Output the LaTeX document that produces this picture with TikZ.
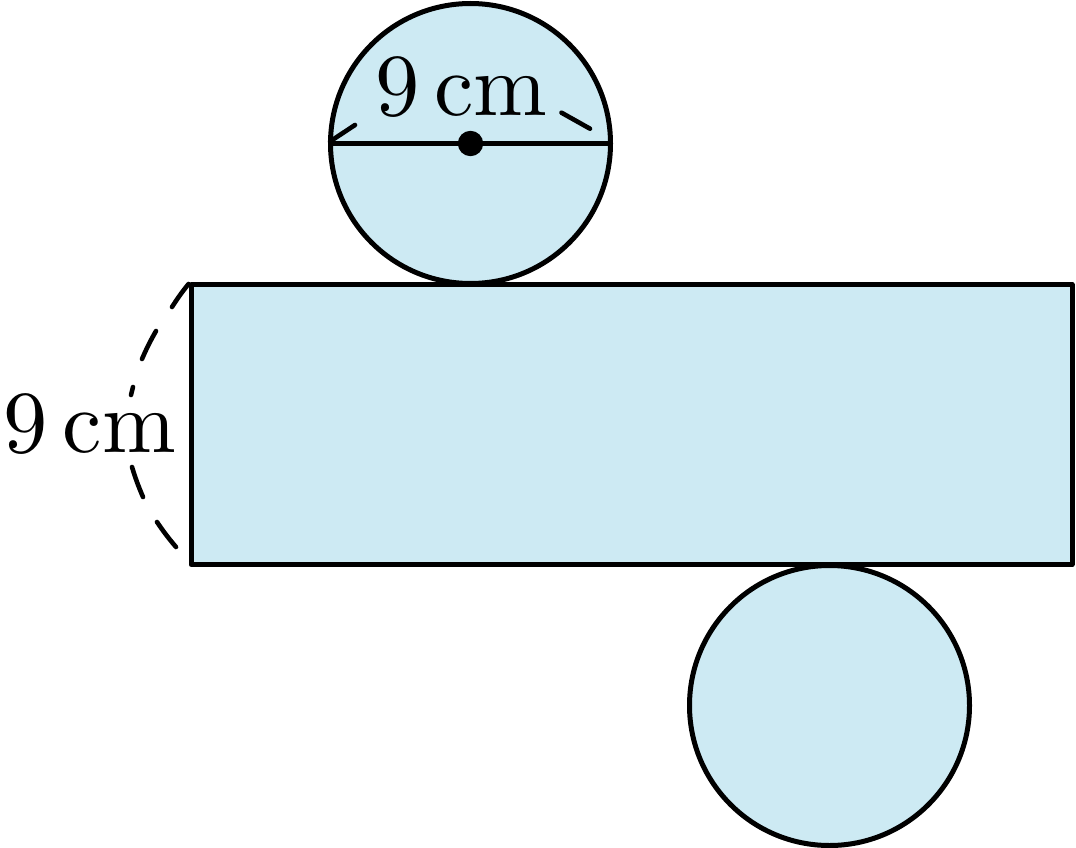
\documentclass[tikz,border=0pt]{standalone}
\definecolor{netblue}{RGB}{205,234,243}
\tikzset{
  shapefill/.style={fill=netblue,draw=black,line width=5pt,line join=round},
  dimline/.style={draw=black,line width=4.6pt,line cap=round},
  lab/.style={inner sep=0pt,anchor=base,scale=8.85,font=\fontsize{10}{12}\selectfont}
}
\begin{document}
\begin{tikzpicture}[x=1pt,y=-1pt]
\useasboundingbox (0,0) rectangle (1076,848);
\node[shapefill,circle,minimum size=280pt,inner sep=0pt] (top) at (470.5,143.5) {};
\node[shapefill,circle,minimum size=280pt,inner sep=0pt] (bot) at (829.5,705.5) {};
\node[shapefill,rectangle,minimum width=881pt,minimum height=280pt,inner sep=0pt] (rect) at (631.5,424.5) {};
\draw[draw=black,line width=5pt] (top.west) -- (top.east);
\fill[black] (470.5,143.5) circle (12.7pt);
\node[lab] (t1) at (461.5,115.5) {9\,cm};
\node[lab] (t2) at (90,452.5) {9\,cm};
\draw[dimline] (top.west) ++(2,-2) -- (355,125);
\draw[dimline] (561.5,112.7) -- (590,128.7);
\draw[dimline] (rect.north west) ++(0,2) to[bend right=3] (172,307);
\draw[dimline] (156,331) to[bend right=3] (142,359);
\draw[dimline] (133,387) to[bend right=3] (131,395);
\draw[dimline] (132,467) to[bend right=3] (143,497);
\draw[dimline] (157,522) to[bend right=3] (176,547);
\end{tikzpicture}
\end{document}
